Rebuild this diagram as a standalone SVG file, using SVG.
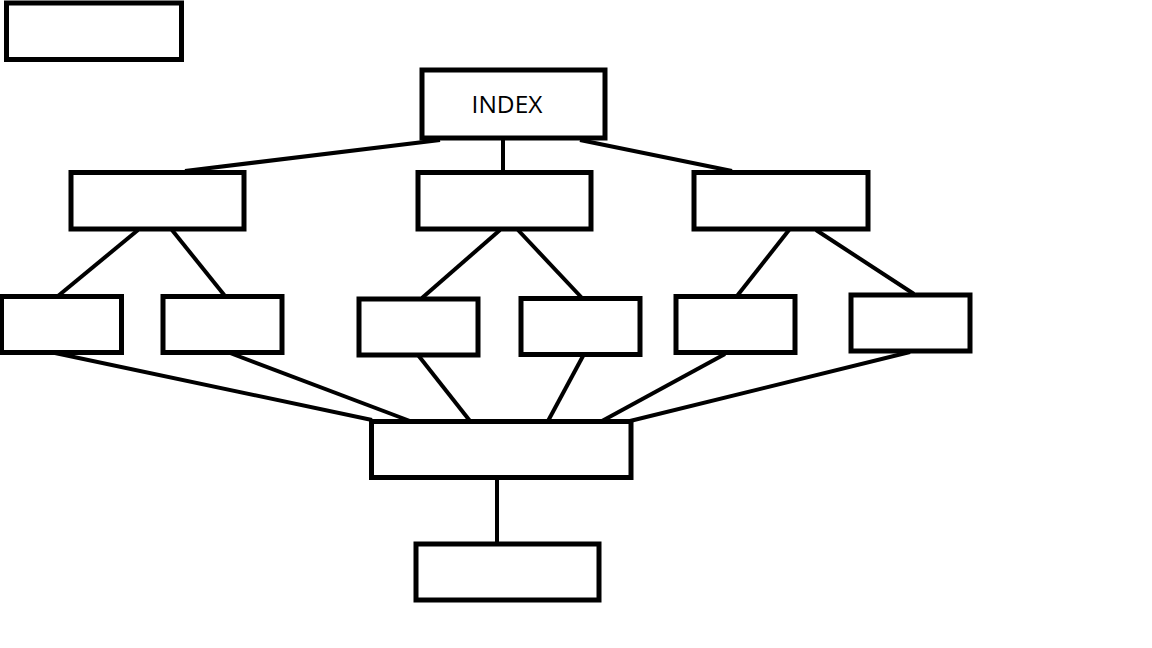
<svg xmlns="http://www.w3.org/2000/svg" width="1152" height="648" viewBox="0 0 1152 648">
<style>
.n{fill:#fff;stroke:#000;stroke-width:5}
.c line{stroke:#000;stroke-width:4}
.t{font-family:"Open Sans","Noto Sans",sans-serif;font-size:24.5px;fill:#000}
</style>
<rect width="1152" height="648" fill="#fff"/>
<g class="c" id="connectors">
<line x1="440" y1="140" x2="185" y2="171"/>
<line x1="503" y1="139" x2="503" y2="172"/>
<line x1="580" y1="140" x2="732" y2="171"/>
<line x1="138" y1="230" x2="58" y2="296"/>
<line x1="172" y1="230" x2="225" y2="296"/>
<line x1="500" y1="230" x2="422" y2="298"/>
<line x1="518" y1="230" x2="582" y2="298"/>
<line x1="789" y1="230" x2="737" y2="296"/>
<line x1="816" y1="230" x2="914" y2="294"/>
<line x1="55" y1="353" x2="372" y2="420"/>
<line x1="230" y1="353" x2="410" y2="421"/>
<line x1="418" y1="355" x2="470" y2="421"/>
<line x1="583" y1="356" x2="548" y2="421"/>
<line x1="725" y1="354" x2="602" y2="421"/>
<line x1="910" y1="352" x2="630" y2="421"/>
<line x1="497" y1="478" x2="497" y2="544"/>
</g>
<g id="n0"><rect class="n" x="6.5" y="3" width="175" height="56.5"/></g>
<g id="index"><rect class="n" x="422" y="70" width="183" height="68"/><text class="t" x="507" y="113" text-anchor="middle">INDEX</text></g>
<g id="l2a"><rect class="n" x="71" y="172.5" width="173" height="56.5"/></g>
<g id="l2b"><rect class="n" x="418" y="172.5" width="173" height="56.5"/></g>
<g id="l2c"><rect class="n" x="694" y="172.5" width="174" height="56.5"/></g>
<g id="l3a"><rect class="n" x="1.5" y="296.5" width="120" height="56"/></g>
<g id="l3b"><rect class="n" x="163" y="296.5" width="119" height="56"/></g>
<g id="l3c"><rect class="n" x="359" y="299" width="119" height="56"/></g>
<g id="l3d"><rect class="n" x="521" y="298.5" width="119" height="56"/></g>
<g id="l3e"><rect class="n" x="676" y="296.5" width="119" height="56"/></g>
<g id="l3f"><rect class="n" x="851" y="295" width="119" height="56"/></g>
<g id="hub"><rect class="n" x="371.5" y="421.5" width="259.5" height="56"/></g>
<g id="bottom"><rect class="n" x="416" y="544" width="183" height="56"/></g>
</svg>
